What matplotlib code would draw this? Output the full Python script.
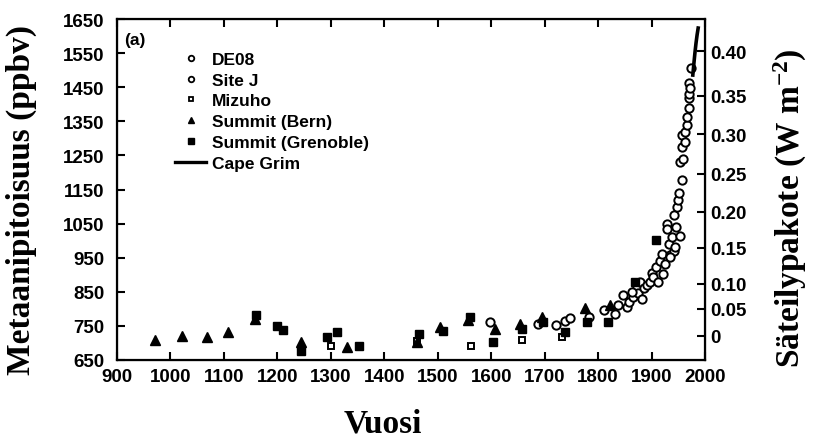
import matplotlib
matplotlib.use("Agg")
import matplotlib.pyplot as plt
from matplotlib.lines import Line2D

plt.rcParams["mathtext.fontset"] = "custom"
plt.rcParams["mathtext.rm"] = "Liberation Serif:bold"
plt.rcParams["mathtext.default"] = "rm"

# --- data ---
de08_year = [1838, 1853, 1858, 1866, 1872, 1875, 1879, 1886, 1892, 1897, 1900, 1903,
             1909, 1916, 1920, 1922, 1925, 1928, 1929, 1932, 1935, 1938, 1941, 1941,
             1945, 1948, 1950, 1952, 1953, 1956, 1956, 1956, 1958, 1962, 1963, 1966,
             1966, 1969, 1969, 1969, 1970, 1972, 1973]
de08_ch4 = [810, 805, 820, 835, 863, 845, 878, 860, 870, 878, 905, 893,
            922, 940, 960, 903, 932, 1050, 1035, 990, 957, 1010, 971, 1074,
            1040, 1100, 1118, 1140, 1231, 1177, 1275, 1310, 1240, 1290, 1320, 1340,
            1364, 1388, 1418, 1462, 1430, 1447, 1506]

sitej_year = [1598, 1688, 1722, 1738, 1747, 1782, 1810, 1832, 1847, 1863, 1882, 1912,
              1935, 1944, 1953]
sitej_ch4 = [761, 756, 751, 763, 772, 776, 795, 785, 839, 849, 829, 878,
             952, 981, 1015]

mizuho_year = [1300, 1461, 1563, 1657, 1732]
mizuho_ch4 = [692, 705, 692, 707, 717]

bern_year = [971, 1021, 1068, 1108, 1158, 1245, 1330, 1461, 1505, 1557, 1607, 1654,
             1695, 1776, 1822]
bern_ch4 = [707, 720, 717, 733, 770, 702, 687, 702, 745, 766, 741, 756,
            776, 802, 810]

gren_year = [1160, 1200, 1210, 1245, 1292, 1312, 1352, 1465, 1510, 1560, 1604, 1657,
             1697, 1738, 1779, 1819, 1869, 1909]
gren_ch4 = [783, 748, 738, 677, 717, 731, 692, 726, 735, 775, 702, 741,
            761, 731, 761, 761, 878, 1001]

capegrim_year = [1977, 1979, 1981, 1983, 1985, 1987]
capegrim_ch4 = [1486, 1520, 1552, 1580, 1604, 1624]

forcing_labels = ["0", "0.05", "0.10", "0.15", "0.20", "0.25", "0.30", "0.35", "0.40"]
forcing_at_ch4 = [721, 800, 874, 979, 1085, 1197, 1312, 1426, 1556]

tickfont = dict(family="Liberation Sans", weight="bold", size=13.5)
labelfont = dict(family="Liberation Serif", weight="bold", size=24)

fig = plt.figure(figsize=(8.18, 4.39), dpi=100)
ax = fig.add_axes([0.143, 0.178, 0.719, 0.776])

ms = 6
ax.plot(de08_year, de08_ch4, "o", mfc="white", mec="black", mew=1.4, ms=ms, label="DE08")
ax.plot(sitej_year, sitej_ch4, "o", mfc="white", mec="black", mew=1.4, ms=ms, label="Site J")
ax.plot(mizuho_year, mizuho_ch4, "s", mfc="white", mec="black", mew=1.4, ms=5, label="Mizuho")
ax.plot(bern_year, bern_ch4, "^", color="black", ms=7, label="Summit (Bern)")
ax.plot(gren_year, gren_ch4, "s", color="black", ms=5.5, label="Summit (Grenoble)")
ax.plot(capegrim_year, capegrim_ch4, "-", color="black", lw=2.6, label="Cape Grim")

ax.set_xlim(900, 2000)
ax.set_ylim(650, 1650)
ax.set_xticks(range(900, 2001, 100))
ax.set_yticks(range(650, 1651, 100))
for lab in ax.get_xticklabels() + ax.get_yticklabels():
    lab.set(**tickfont)
ax.tick_params(axis="both", direction="in", length=6, width=1.5, top=True)
ax.tick_params(axis="x", pad=6)
ax.tick_params(axis="y", pad=9)
for sp in ax.spines.values():
    sp.set_linewidth(1.6)

ax2 = ax.twinx()
ax2.set_ylim(650, 1650)
ax2.set_yticks(forcing_at_ch4)
ax2.set_yticklabels(forcing_labels, **tickfont)
ax2.tick_params(axis="y", direction="in", length=6, width=1.5, pad=4)

handles = [
    Line2D([], [], ls="", marker="o", mfc="white", mec="black", mew=1.3, ms=4),
    Line2D([], [], ls="", marker="o", mfc="white", mec="black", mew=1.3, ms=4),
    Line2D([], [], ls="", marker="s", mfc="white", mec="black", mew=1.3, ms=3.5),
    Line2D([], [], ls="", marker="^", color="black", ms=5),
    Line2D([], [], ls="", marker="s", color="black", ms=4),
    Line2D([], [], ls="-", color="black", lw=2.4),
]
labels = ["DE08", "Site J", "Mizuho", "Summit (Bern)", "Summit (Grenoble)", "Cape Grim"]
ax.legend(handles, labels, loc="upper left", bbox_to_anchor=(0.099, 0.905),
          frameon=False, prop=dict(family="Liberation Sans", weight="bold", size=12.5),
          handlelength=1.8, handletextpad=0.3, labelspacing=0.33,
          borderpad=0, borderaxespad=0)

ax.text(0.013, 0.941, "(a)", transform=ax.transAxes, va="center", ha="left",
        family="Liberation Sans", weight="bold", size=12.5)

fig.text(0.026, 0.544, "Metaanipitoisuus (ppbv)", rotation=90, ha="center", va="center", **labelfont)
fig.text(0.966, 0.526, r"Säteilypakote (W m$^{-2}$)", rotation=90, ha="center", va="center", **labelfont)
fig.text(0.468, 0.035, "Vuosi", ha="center", va="center", **labelfont)

fig.savefig("out.png", dpi=100)
